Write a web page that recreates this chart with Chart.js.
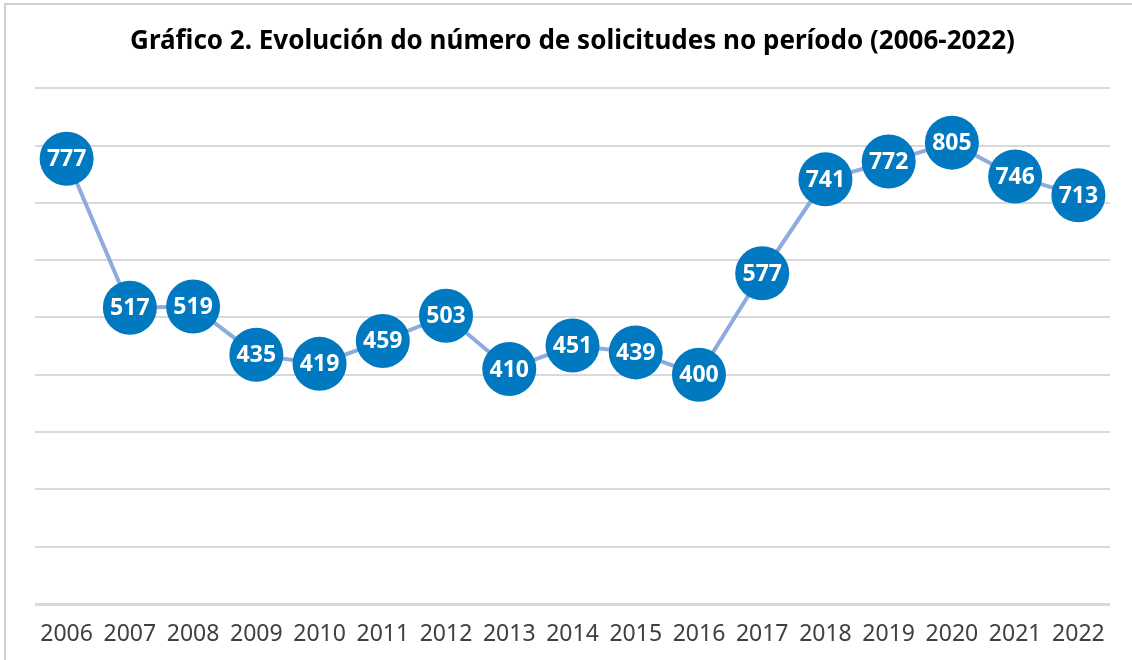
<!DOCTYPE html>
<html>
<head>
<meta charset="utf-8">
<script src="https://cdn.jsdelivr.net/npm/chart.js@4"></script>
<style>
  body { margin: 0; background: #fff; overflow: hidden; }
  #frame { position: absolute; left: 4px; top: 3px; width: 1200px; height: 700px; border: 2px solid #d0d0d0; }
  #wrap { position: absolute; left: 0; top: 0; width: 1138px; height: 660px; }
</style>
</head>
<body>
<div id="frame"></div>
<div id="wrap"><canvas id="chart"></canvas></div>
<script>
// años e solicitudes
const years = ['2006', '2007', '2008', '2009', '2010', '2011', '2012', '2013', '2014', '2015', '2016', '2017', '2018', '2019', '2020', '2021', '2022'];
const requests = [777, 517, 519, 435, 419, 459, 503, 410, 451, 439, 400, 577, 741, 772, 805, 746, 713];
const yMax = 900;
const yStep = 100;

// etiquetas dentro dos círculos
const pointLabels = {
    id: 'pointLabels',
    afterDatasetsDraw(chart) {
        const ctx = chart.ctx;
        const meta = chart.getDatasetMeta(0);
        ctx.save();
        ctx.fillStyle = '#ffffff';
        ctx.font = 'bold 23px "Noto Sans"';
        ctx.textAlign = 'center';
        ctx.textBaseline = 'middle';
        meta.data.forEach((pt, i) => {
            ctx.fillText(String(requests[i]), pt.x, pt.y + 1);
        });
        ctx.restore();
    }
};

const ctx = document.getElementById('chart').getContext('2d');
const chart = new Chart(ctx, {
    type: 'line',
    data: {
        labels: years,
        datasets: [{
            data: requests,
            borderColor: '#8faadc',
            borderWidth: 4,
            pointRadius: 27,
            pointHoverRadius: 27,
            pointBackgroundColor: '#0079c1',
            pointBorderWidth: 0,
            tension: 0,
            clip: false
        }]
    },
    options: {
        responsive: true,
        maintainAspectRatio: false,
        animation: false,
        layout: { padding: { left: 35, right: 28, top: 0, bottom: 14 } },
        plugins: {
            legend: { display: false },
            tooltip: { enabled: false },
            title: {
                display: true,
                text: 'Gráfico 2. Evolución do número de solicitudes no período (2006-2022)',
                color: '#000000',
                font: { family: '"Noto Sans"', size: 26, weight: 'bold', lineHeight: 1.2 },
                padding: { top: 26, bottom: 31 }
            }
        },
        scales: {
            x: {
                offset: true,
                grid: { display: false, drawTicks: false },
                border: { display: false },
                ticks: {
                    color: '#404040',
                    padding: 17,
                    maxRotation: 0,
                    autoSkip: false,
                    font: { family: '"Noto Sans"', size: 23 }
                },
                afterFit: scale => {
                    scale.height = 42;
                    scale.paddingLeft = 0;
                    scale.paddingRight = 0;
                }
            },
            y: {
                min: 0,
                max: yMax,
                ticks: { display: false, stepSize: yStep },
                border: { display: false },
                grid: {
                    drawTicks: false,
                    color: '#d9d9d9',
                    lineWidth: c => (c.tick && c.tick.value === 0 ? 3 : 2)
                }
            }
        }
    },
    plugins: [pointLabels]
});
</script>
</body>
</html>
